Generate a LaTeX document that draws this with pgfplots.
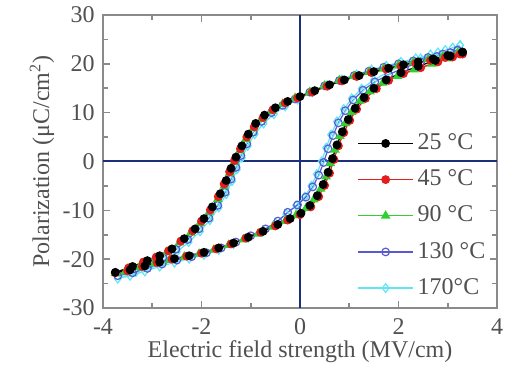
\documentclass[border=0pt]{standalone}
\usepackage{fontspec}
\setmainfont{Liberation Serif}
\usepackage{pgfplots}
\pgfplotsset{compat=1.18}
\definecolor{axgray}{HTML}{8A8A8A}
\definecolor{labgray}{HTML}{505050}
\definecolor{navy}{HTML}{1C2F7A}
\definecolor{cR}{HTML}{E41E1E}
\definecolor{cG}{HTML}{30D030}
\definecolor{cB}{HTML}{5A5AD0}
\definecolor{cC}{HTML}{60E6F4}
\begin{document}
\fontsize{12}{14}\selectfont
\begin{tikzpicture}
\begin{axis}[
  scale only axis, width=197pt, height=146.5pt,
  xmin=-4, xmax=4, ymin=-30, ymax=30,
  xtick={-4,-2,0,2,4}, ytick={-30,-20,...,30},
  minor x tick num=1, minor y tick num=1,
  tick align=inside,
  axis line style={axgray, line width=1pt},
  every tick/.style={axgray, line width=0.8pt},
  major tick length=3.5pt, minor tick length=2.5pt,
  tick label style={font=\fontsize{12}{14}\selectfont, text=labgray},
  xticklabel style={yshift=-1pt},
  /pgf/number format/assume math mode=true,
  xlabel={Electric field strength (MV/cm)},
  ylabel={Polarization (μC/cm\textsuperscript{2})},
  label style={text=labgray, font=\fontsize{12}{14}\selectfont},
  xlabel style={at={(axis description cs:0.5,0)}, anchor=center, yshift=-22pt},
  ylabel style={at={(axis description cs:0,0.5)}, anchor=center, yshift=30.5pt},
  legend style={draw=none, fill=none, at={(axis cs:1.16,6.6)}, anchor=north west,
    font=\fontsize{12}{14}\selectfont, text=labgray, row sep=4.3pt, inner sep=0pt,
    /tikz/every even column/.append style={column sep=2pt}},
  legend cell align=left,
  legend image code/.code={\draw[mark repeat=2,mark phase=2,#1] plot coordinates {(0pt,0pt) (13.75pt,0pt) (27.5pt,0pt)};},
  reverse legend,
  every axis plot/.append style={line width=0.6pt, mark size=1.9pt},
]
\addplot[navy, line width=1pt, forget plot] coordinates {(0,-30) (0,30)};
\addplot[navy, line width=1pt, forget plot] coordinates {(-4,0) (4,0)};

% 170 C
\addplot[cC, mark=diamond, mark options={fill=white, mark size=2.2pt}] coordinates {
(3.25,23.8) (2.95,22.8) (2.65,21.9) (2.35,21.1) (2.05,20.4) (1.75,19.6) (1.45,18.8) (1.15,17.8) (0.85,16.8) (0.55,15.6) (0.25,14.2) (-0.05,12.7) (-0.30,11.3) (-0.53,9.7) (-0.74,7.8) (-0.92,5.6) (-1.06,3.2) (-1.18,0.8) (-1.28,-1.6) (-1.38,-4.0) (-1.50,-6.7) (-1.65,-9.4) (-1.83,-12.0) (-2.03,-14.3) (-2.26,-16.5) (-2.50,-18.5) (-2.76,-20.1) (-3.03,-21.3) (-3.33,-22.6) (-3.70,-24.0)
(-3.45,-23.4) (-3.15,-22.5) (-2.85,-21.5) (-2.55,-20.7) (-2.25,-19.9) (-1.95,-19.1) (-1.65,-18.1) (-1.35,-16.9) (-1.05,-15.6) (-0.75,-14.1) (-0.50,-12.6) (-0.28,-10.8) (-0.08,-9.0) (0.10,-7.2) (0.23,-5.0) (0.34,-2.6) (0.44,0.0) (0.53,2.8) (0.63,5.5) (0.75,8.2) (0.89,10.7) (1.05,12.9) (1.25,14.9) (1.50,16.7) (1.78,18.3) (2.10,19.8) (2.45,21.1) (2.80,22.3) (3.10,23.3) (3.25,23.8)};
\addlegendentry{170°C}

% 130 C
\addplot[cB, mark=o, mark options={fill=white}] coordinates {
(3.20,22.8) (2.90,22.0) (2.60,21.3) (2.30,20.6) (2.00,20.0) (1.70,19.3) (1.40,18.5) (1.10,17.6) (0.80,16.6) (0.50,15.5) (0.20,14.2) (-0.10,12.8) (-0.35,11.5) (-0.58,10.0) (-0.78,8.2) (-0.95,6.0) (-1.08,3.6) (-1.20,1.2) (-1.30,-1.2) (-1.40,-3.6) (-1.52,-6.3) (-1.67,-9.0) (-1.85,-11.6) (-2.05,-13.8) (-2.28,-16.0) (-2.52,-18.0) (-2.78,-19.6) (-3.05,-20.8) (-3.35,-22.0) (-3.70,-23.4)
(-3.40,-22.8) (-3.10,-21.9) (-2.80,-21.0) (-2.50,-20.2) (-2.20,-19.5) (-1.90,-18.7) (-1.60,-17.7) (-1.30,-16.5) (-1.00,-15.2) (-0.70,-13.8) (-0.45,-12.2) (-0.25,-10.4) (-0.05,-8.9) (0.12,-7.3) (0.26,-5.2) (0.38,-2.8) (0.48,-0.2) (0.57,2.6) (0.67,5.3) (0.78,7.9) (0.92,10.4) (1.08,12.6) (1.28,14.6) (1.52,16.3) (1.80,17.8) (2.12,19.2) (2.45,20.4) (2.78,21.5) (3.05,22.3) (3.20,22.8)};
\addlegendentry{130 °C}

% 90 C
\addplot[cG, mark=triangle*, mark options={mark size=2.2pt}] coordinates {
(3.20,22.2) (2.90,21.5) (2.60,20.9) (2.30,20.3) (2.00,19.7) (1.70,19.0) (1.40,18.3) (1.10,17.5) (0.80,16.6) (0.50,15.5) (0.20,14.2) (-0.10,13.0) (-0.35,11.8) (-0.58,10.3) (-0.78,8.7) (-0.95,6.8) (-1.10,4.6) (-1.22,2.3) (-1.33,0.0) (-1.43,-2.4) (-1.54,-5.0) (-1.67,-7.7) (-1.84,-10.3) (-2.03,-12.6) (-2.22,-14.6) (-2.45,-16.6) (-2.70,-18.5) (-2.95,-19.8) (-3.22,-20.9) (-3.50,-22.0) (-3.75,-22.9)
(-3.55,-22.6) (-3.25,-21.7) (-2.95,-20.9) (-2.65,-20.2) (-2.35,-19.5) (-2.05,-18.9) (-1.75,-18.1) (-1.45,-17.1) (-1.15,-16.0) (-0.85,-14.8) (-0.55,-13.4) (-0.30,-12.2) (-0.08,-11.0) (0.12,-9.6) (0.28,-7.8) (0.42,-5.6) (0.53,-3.1) (0.62,-0.4) (0.71,2.4) (0.81,5.2) (0.92,7.8) (1.05,10.1) (1.22,12.4) (1.42,14.3) (1.68,16.1) (1.98,17.5) (2.32,18.8) (2.68,20.0) (3.00,21.1) (3.20,22.2)};
\addlegendentry{90 °C}

% 45 C
\addplot[cR, mark=*] coordinates {
(3.25,22.0) (2.95,21.3) (2.65,20.7) (2.35,20.1) (2.05,19.5) (1.75,18.9) (1.45,18.2) (1.15,17.4) (0.85,16.5) (0.55,15.4) (0.25,14.2) (-0.05,13.0) (-0.30,12.0) (-0.55,10.6) (-0.75,9.0) (-0.93,7.1) (-1.08,5.0) (-1.21,2.6) (-1.33,0.2) (-1.43,-2.1) (-1.54,-4.6) (-1.66,-7.2) (-1.82,-9.9) (-2.00,-12.2) (-2.18,-14.2) (-2.42,-16.3) (-2.67,-18.3) (-2.92,-19.6) (-3.18,-20.6) (-3.48,-21.8) (-3.75,-22.8)
(-3.50,-22.4) (-3.20,-21.5) (-2.90,-20.7) (-2.60,-20.0) (-2.30,-19.4) (-2.00,-18.8) (-1.70,-17.9) (-1.40,-16.9) (-1.10,-15.7) (-0.80,-14.5) (-0.50,-13.2) (-0.25,-12.0) (0.00,-10.9) (0.22,-9.3) (0.38,-7.2) (0.50,-4.9) (0.60,-2.4) (0.69,0.4) (0.78,3.2) (0.89,5.9) (1.01,8.4) (1.15,10.7) (1.33,12.9) (1.55,14.9) (1.80,16.6) (2.10,18.0) (2.45,19.2) (2.80,20.4) (3.10,21.4) (3.30,22.0)};
\addlegendentry{45 °C}

% 25 C
\addplot[black, mark=*] coordinates {
(3.30,22.4) (3.00,21.7) (2.70,21.0) (2.40,20.4) (2.10,19.8) (1.80,19.1) (1.50,18.4) (1.20,17.6) (0.90,16.7) (0.60,15.7) (0.30,14.5) (0.00,13.3) (-0.25,12.3) (-0.50,11.0) (-0.72,9.5) (-0.90,7.8) (-1.05,5.6) (-1.18,3.2) (-1.30,0.9) (-1.40,-1.4) (-1.50,-3.9) (-1.62,-6.6) (-1.78,-9.3) (-1.95,-11.7) (-2.13,-13.8) (-2.35,-15.8) (-2.60,-17.9) (-2.85,-19.3) (-3.10,-20.3) (-3.40,-21.5) (-3.75,-22.7)
(-3.45,-22.2) (-3.15,-21.4) (-2.85,-20.6) (-2.55,-19.9) (-2.25,-19.3) (-1.95,-18.6) (-1.65,-17.7) (-1.35,-16.7) (-1.05,-15.5) (-0.75,-14.3) (-0.45,-12.9) (-0.20,-11.7) (0.02,-10.6) (0.20,-9.0) (0.35,-7.0) (0.47,-4.7) (0.57,-2.2) (0.66,0.6) (0.75,3.4) (0.86,6.1) (0.98,8.6) (1.12,10.9) (1.30,13.1) (1.50,15.0) (1.75,16.7) (2.05,18.2) (2.40,19.5) (2.75,20.7) (3.05,21.6) (3.30,22.4)};
\addlegendentry{25 °C}
\end{axis}
\pgfresetboundingbox
\path[use as bounding box] ([shift={(-51.5pt,-31pt)}]current axis.south west) rectangle ([shift={(7.5pt,7.5pt)}]current axis.north east);
\end{tikzpicture}
\end{document}
